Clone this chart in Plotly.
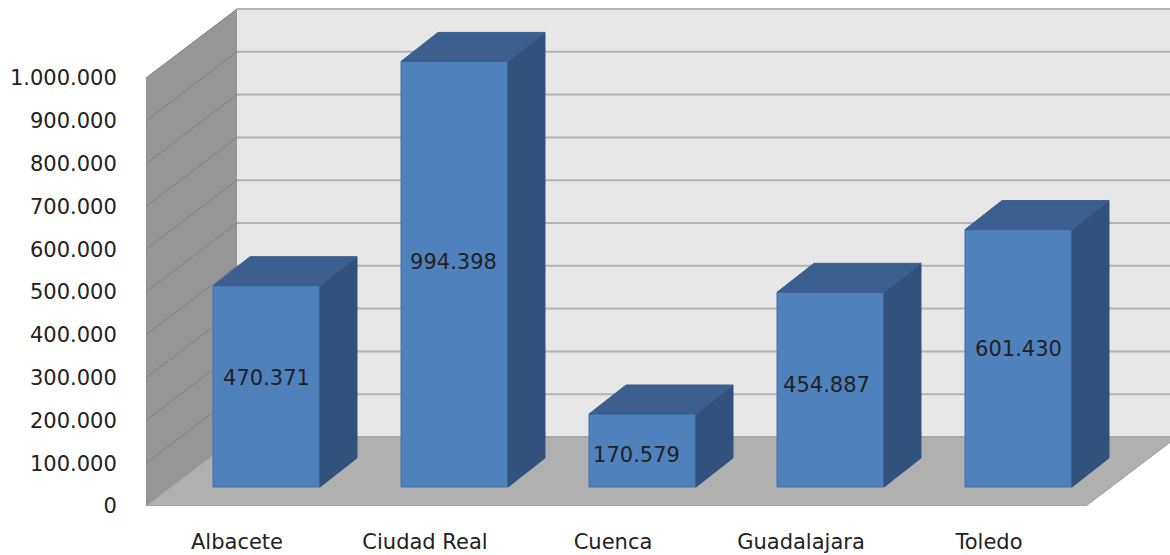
import plotly.graph_objects as go

categories = ["Albacete", "Ciudad Real", "Cuenca", "Guadalajara", "Toledo"]
values = [470371, 994398, 170579, 454887, 601430]
tick_values = [0, 100000, 200000, 300000, 400000, 500000, 600000, 700000, 800000, 900000, 1000000]
tick_labels = ["0", "100.000", "200.000", "300.000", "400.000", "500.000", "600.000", "700.000", "800.000", "900.000", "1.000.000"]
bar_labels = ["470.371", "994.398", "170.579", "454.887", "601.430"]
label_dx_px = [0, -1, -6, -4, 0]
label_dy_px = [7, 10, -6, 3, 8]

W, H = 1170, 555
LEFT, BOTTOM = 146, 49
CAT_PX = 188.0
PX_PER_UNIT = 428.0 / 1000000
ux = 1 / CAT_PX
uy = 1 / PX_PER_UNIT
DEPTH_X, DEPTH_Y = 91 * ux, 69 * uy
BAR_W = 107 * ux
BAR_DX, BAR_DY = 26.5 * ux, 19 * uy
BAR_DEPTH_X, BAR_DEPTH_Y = 37 * ux, 29 * uy
N = len(categories)
TOP = max(tick_values)

FRONT = "#4f81bd"
SIDE = "#31527c"
CAP = "#3b5f8e"
EDGE = "#41709f"
TEXT = "#222222"


def path(points):
    return "M " + " L ".join(f"{x},{y}" for x, y in points) + " Z"


shapes = [
    dict(type="path", layer="below", xref="x", yref="y", fillcolor="#e7e7e7", line=dict(width=0),
         path=path([(DEPTH_X, DEPTH_Y), (N + DEPTH_X, DEPTH_Y), (N + DEPTH_X, DEPTH_Y + TOP), (DEPTH_X, DEPTH_Y + TOP)])),
    dict(type="path", layer="below", xref="x", yref="y", fillcolor="#969696", line=dict(width=0),
         path=path([(0, 0), (DEPTH_X, DEPTH_Y), (DEPTH_X, DEPTH_Y + TOP), (0, TOP)])),
]
for t in tick_values:
    if t > 0:
        shapes.append(dict(type="line", layer="below", xref="x", yref="y", x0=0, y0=t, x1=DEPTH_X, y1=t + DEPTH_Y,
                           line=dict(color="#808080", width=1)))
    shapes.append(dict(type="line", layer="below", xref="x", yref="y", x0=DEPTH_X, y0=t + DEPTH_Y, x1=N + DEPTH_X, y1=t + DEPTH_Y,
                       line=dict(color="#b2b2b2", width=2)))
shapes.append(dict(type="path", layer="below", xref="x", yref="y", fillcolor="#b0b0b0",
                   line=dict(color="#9a9a9a", width=1),
                   path=path([(0, 0), (N, 0), (N + DEPTH_X, DEPTH_Y), (DEPTH_X, DEPTH_Y)])))

fig = go.Figure()

centers = [i + 0.5 + BAR_DX for i in range(N)]
fig.add_trace(go.Bar(x=centers, y=values, base=[BAR_DY] * N, width=BAR_W,
                     marker=dict(color=FRONT, line=dict(color=EDGE, width=1)),
                     showlegend=False, hoverinfo="skip"))

for c, v in zip(centers, values):
    xl, xr = c - BAR_W / 2, c + BAR_W / 2
    y0, y1 = BAR_DY, BAR_DY + v
    fig.add_trace(go.Scatter(
        x=[xr, xr + BAR_DEPTH_X, xr + BAR_DEPTH_X, xr, xr],
        y=[y0, y0 + BAR_DEPTH_Y, y1 + BAR_DEPTH_Y, y1, y0],
        mode="lines", fill="toself", fillcolor=SIDE, line=dict(color=SIDE, width=1),
        showlegend=False, hoverinfo="skip"))
    fig.add_trace(go.Scatter(
        x=[xl, xr, xr + BAR_DEPTH_X, xl + BAR_DEPTH_X, xl],
        y=[y1, y1, y1 + BAR_DEPTH_Y, y1 + BAR_DEPTH_Y, y1],
        mode="lines", fill="toself", fillcolor=CAP, line=dict(color=CAP, width=1),
        showlegend=False, hoverinfo="skip"))

fig.add_trace(go.Scatter(
    x=[c + d * ux for c, d in zip(centers, label_dx_px)],
    y=[BAR_DY + v / 2 + d * uy for v, d in zip(values, label_dy_px)],
    mode="text", text=bar_labels, textposition="middle center",
    textfont=dict(family="DejaVu Sans", size=21, color=TEXT),
    showlegend=False, hoverinfo="skip"))

fig.update_layout(
    width=W, height=H, autosize=False,
    margin=dict(l=LEFT, r=0, t=0, b=BOTTOM, pad=0),
    paper_bgcolor="white", plot_bgcolor="white",
    shapes=shapes, showlegend=False,
    font=dict(family="DejaVu Sans", size=21, color=TEXT),
    xaxis=dict(range=[0, (W - LEFT) / CAT_PX], tickmode="array",
               tickvals=[i + 0.5 - 3 * ux for i in range(N)], ticktext=categories,
               showgrid=False, zeroline=False, showline=False, automargin=False,
               ticks="outside", ticklen=17, tickcolor="rgba(0,0,0,0)"),
    yaxis=dict(range=[0, (H - BOTTOM) / PX_PER_UNIT], tickmode="array",
               tickvals=tick_values, ticktext=tick_labels,
               showgrid=False, zeroline=False, showline=False, automargin=False,
               ticks="outside", ticklen=24, tickcolor="rgba(0,0,0,0)"),
)

fig.write_html("out.html", config={"displayModeBar": False},
               post_script="document.body.style.margin='0';")
